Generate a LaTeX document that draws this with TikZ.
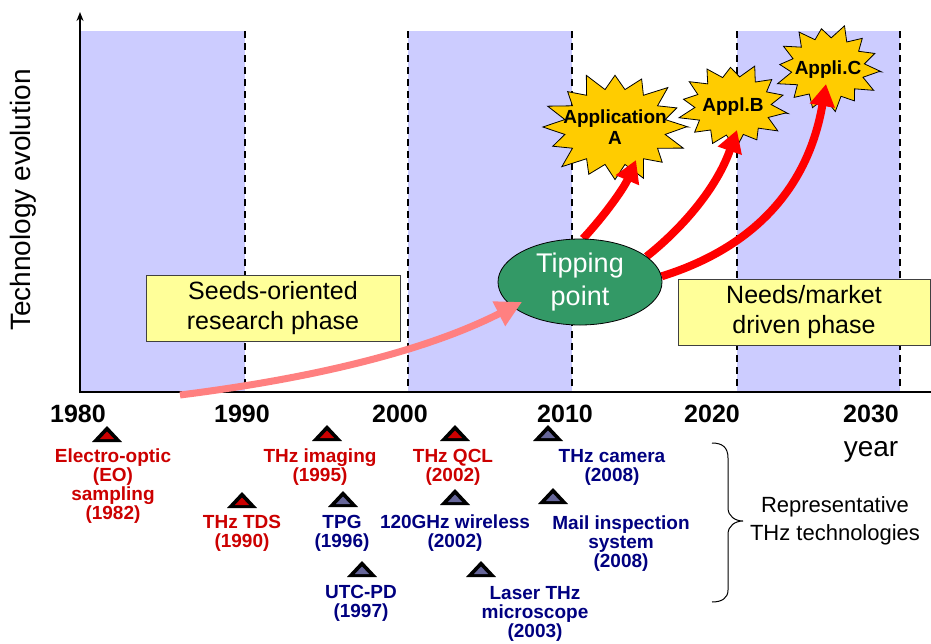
\documentclass[tikz,border=0pt]{standalone}
\usepackage{fontspec}
\setmainfont{Liberation Sans}
\usetikzlibrary{arrows.meta,shapes.geometric}
\pgfdeclarelayer{bg}
\pgfdeclarelayer{arr}
\pgfsetlayers{bg,arr,main}
\definecolor{band}{RGB}{204,204,255}
\definecolor{boxy}{RGB}{255,255,153}
\definecolor{tpg}{RGB}{51,153,102}
\definecolor{gold}{RGB}{255,204,0}
\definecolor{tred}{RGB}{204,0,0}
\definecolor{tblue}{RGB}{0,0,128}
\definecolor{tslate}{RGB}{102,102,153}
\definecolor{pinkarr}{RGB}{255,128,128}
\newcommand\mytri[3]{%
  \fill[black] (#1-15,#2) -- (#1,#2-16) -- (#1+15,#2) -- cycle;
  \fill[#3] (#1-7,#2-3) -- (#1,#2-10.5) -- (#1+7,#2-3) -- cycle;}
\newcommand\myburst[6]{% cx cy rx ry n phase
  \filldraw[burst] ({#1+#3*cos(#6)},{#2+#4*sin(#6)})
  \foreach \k in {1,...,#5} {
    -- ({#1+0.72*#3*cos((2*\k-1)*180/#5+#6)},{#2+0.72*#4*sin((2*\k-1)*180/#5+#6)})
    -- ({#1+#3*(1+0.06*sin(\k*137))*cos(2*\k*180/#5+#6)},{#2+#4*(1+0.06*sin(\k*137))*sin(2*\k*180/#5+#6)})
  } -- cycle;}
\begin{document}
\begin{tikzpicture}[x=1pt,y=-1pt,
  yearlbl/.style={font=\bfseries\fontsize{25}{25}\selectfont, inner sep=0},
  redlbl/.style={font=\bfseries\fontsize{19}{19}\selectfont, align=center, inner sep=0, text=tred},
  bluelbl/.style={font=\bfseries\fontsize{19}{19}\selectfont, align=center, inner sep=0, text=tblue},
  phasebox/.style={draw=black!75, fill=boxy, font=\fontsize{25}{30}\selectfont, align=center, inner sep=0, line width=0.8},
  divider/.style={dash pattern=on 7pt off 5pt, line width=1.5},
  burst/.style={fill=gold, draw=black, line width=0.8},
  burstlbl/.style={font=\bfseries\fontsize{19}{21}\selectfont, align=center, inner sep=0},
  redarrow/.style={draw=red, line width=8, -{Triangle[length=22pt,width=24pt]}},
  pinkarrow/.style={draw=pinkarr, line width=7, -{Triangle[length=26pt,width=26pt]}}]
\useasboundingbox (0,0) rectangle (931,643);

\begin{pgfonlayer}{bg}
  % bands
  \fill[band] (80,31) rectangle (245,392);
  \fill[band] (408,31) rectangle (572,392);
  \fill[band] (737,31) rectangle (900,392);
  % dashed dividers
  \foreach \xx in {245,408,572,737,900} \draw[divider] (\xx,31) -- (\xx,392);
  % axes
  \draw[line width=2, -{Stealth[length=9pt,width=7pt]}] (80,393) -- (80,12);
  \draw[line width=2.8] (79,392) -- (931,392);
  % starbursts
  \myburst{615}{127}{71}{53}{16}{0}
  \myburst{733}{106}{53}{41}{14}{10}
  \myburst{828}{68}{51}{42}{14}{5}
\end{pgfonlayer}

% phase boxes
\node[phasebox, minimum width=254, minimum height=66] (seeds) at (273,308) {Seeds-oriented\\research phase};
\node[phasebox, minimum width=252, minimum height=66] (needs) at (804,312) {Needs/market\\driven phase};

% tipping point
\node[ellipse, draw=black, line width=0.8, fill=tpg, minimum width=164, minimum height=86, inner sep=0,
      text=white, align=center, font=\fontsize{27}{33}\selectfont] (tp) at (580,282) {Tipping\\point};

% star labels
\node[burstlbl] (appA) at (615,127) {Application\\A};
\node[burstlbl] (appB) at (733,107) {Appl.B};
\node[burstlbl] (appC) at (828,70) {Appli.C};

\coordinate (tipA) at (636,160);
\coordinate (tipB) at (737,130);
\coordinate (tipC) at (826,84);
\coordinate (pinkstart) at (180,395);
\coordinate (pinktip) at (522,302);

\begin{pgfonlayer}{arr}
  \draw[redarrow] (tp.86) .. controls (605,215) and (624,188) .. (tipA);
  \draw[redarrow] (tp.21) .. controls (680,230) and (716,190) .. (tipB);
  \draw[redarrow] (tp.4) .. controls (740,252) and (806,200) .. (tipC);
\end{pgfonlayer}

\draw[pinkarrow] (pinkstart) .. controls (300,380) and (420,354) .. (pinktip);

% axis labels
\node[rotate=90, font=\fontsize{28}{28}\selectfont, inner sep=0] (ylab) at (23,200) {Technology evolution};
\node[font=\fontsize{28}{28}\selectfont, inner sep=0] (yr) at (871,452) {year};

% years
\node[yearlbl] (y1980) at (78,414) {1980};
\node[yearlbl] (y1990) at (242,414) {1990};
\node[yearlbl] (y2000) at (400,414) {2000};
\node[yearlbl] (y2010) at (565,414) {2010};
\node[yearlbl] (y2020) at (712,414) {2020};
\node[yearlbl] (y2030) at (871,414) {2030};

% markers
\mytri{107}{442}{tred}
\mytri{242}{508}{tred}
\mytri{327}{441}{tred}
\mytri{343}{507}{tslate}
\mytri{362}{577}{tslate}
\mytri{455}{441}{tred}
\mytri{455}{505}{tslate}
\mytri{548}{441}{tslate}
\mytri{553}{504}{tslate}
\mytri{481}{577}{tslate}

% technology labels
\node[redlbl] (eo) at (113,486.5) {Electro-optic\\(EO)\\sampling\\(1982)};
\node[redlbl] (tds) at (242,533) {THz TDS\\(1990)};
\node[redlbl] (img) at (320,467.5) {THz imaging\\(1995)};
\node[bluelbl] (tpgl) at (342,533) {TPG\\(1996)};
\node[bluelbl] (utc) at (361,603) {UTC-PD\\(1997)};
\node[redlbl] (qcl) at (453,467.5) {THz QCL\\(2002)};
\node[bluelbl] (wl) at (455,533) {120GHz wireless\\(2002)};
\node[bluelbl] (cam) at (612,467.5) {THz camera\\(2008)};
\node[bluelbl] (mail) at (621,544) {Mail inspection\\system\\(2008)};
\node[bluelbl] (lsr) at (535,614) {Laser THz\\microscope\\(2003)};

% brace
\draw[line width=1] (712,443) .. controls (722,443) and (728,447) .. (728,458) -- (728,508)
  .. controls (728,516) and (735,521) .. (743,521) .. controls (735,521) and (728,526) .. (728,534)
  -- (728,590) .. controls (728,598) and (722,602) .. (712,602);
\node[align=center, font=\fontsize{22}{28}\selectfont, inner sep=0] (rep) at (835,521) {Representative\\THz technologies};
\end{tikzpicture}
\end{document}
